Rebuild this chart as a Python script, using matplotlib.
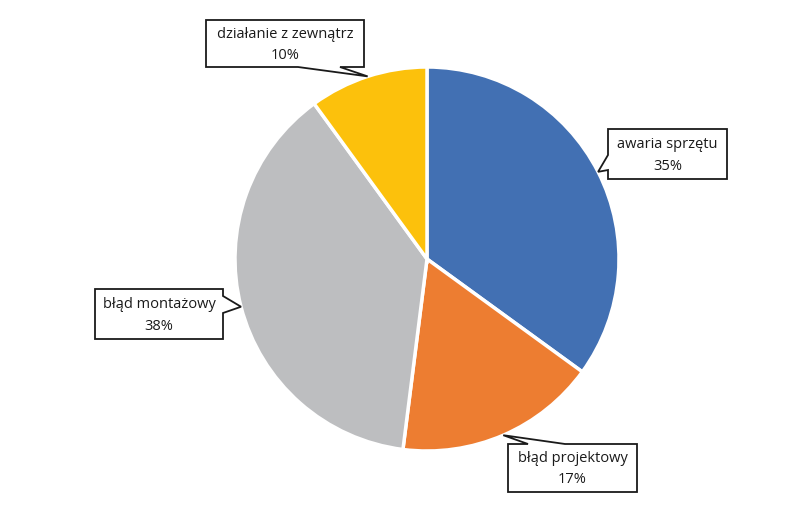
import numpy as np
import matplotlib
matplotlib.use("Agg")
import matplotlib.pyplot as plt
from matplotlib.patches import Polygon

plt.rcParams["font.family"] = ["Open Sans", "DejaVu Sans"]

# dane
kategorie = ["awaria sprzętu", "błąd projektowy", "błąd montażowy", "działanie z zewnątrz"]
udzialy = [35, 17, 38, 10]
kolory = ["#4270B3", "#ED7D31", "#BDBEC0", "#FCC10C"]

W, H = 800, 510
CX, CY, R = 427, 250, 192  # srodek w ukladzie y w gore

# ramki etykiet (piksele, y w dol): x0, y0, x1, y1, krawedz, poczatek i koniec podstawy wskaznika
ramki = [
    (608, 130, 727, 180, "left", 156, 171),
    (508, 445, 637, 493, "top", 528, 565),
    (95, 290, 223, 340, "right", 297, 314),
    (206, 21, 364, 68, "bottom", 298, 340),
]

fig = plt.figure(figsize=(W / 100, H / 100), dpi=100)
ax = fig.add_axes([0, 0, 1, 1])
ax.pie(udzialy, colors=kolory, startangle=90, counterclock=False,
       center=(CX, CY), radius=R,
       wedgeprops=dict(edgecolor="white", linewidth=2.5))
ax.set_xlim(0, W)
ax.set_ylim(0, H)
ax.set_aspect("equal")
ax.axis("off")

# katy srodkow wycinkow
frac = np.array(udzialy) / sum(udzialy)
kon = 90 - 360 * np.cumsum(frac)
srodki = kon + 180 * frac

for nazwa, p, kat, rb in zip(kategorie, udzialy, srodki, ramki):
    x0, y0, x1, y1, bok, a, b = rb
    tx = CX + R * np.cos(np.radians(kat))
    ty = CY + R * np.sin(np.radians(kat))
    Y0, Y1 = H - y0, H - y1  # Y0 gora, Y1 dol
    if bok == "left":
        pts = [(x0, Y0), (x1, Y0), (x1, Y1), (x0, Y1), (x0, H - b), (tx, ty), (x0, H - a)]
    elif bok == "right":
        pts = [(x0, Y0), (x1, Y0), (x1, H - a), (tx, ty), (x1, H - b), (x1, Y1), (x0, Y1)]
    elif bok == "top":
        pts = [(x0, Y0), (a, Y0), (tx, ty), (b, Y0), (x1, Y0), (x1, Y1), (x0, Y1)]
    else:
        pts = [(x0, Y0), (x1, Y0), (x1, Y1), (b, Y1), (tx, ty), (a, Y1), (x0, Y1)]
    ax.add_patch(Polygon(pts, closed=True, facecolor="white", edgecolor="#1a1a1a",
                         linewidth=1.3, zorder=5, joinstyle="miter"))
    xm = (x0 + x1) / 2
    ax.text(xm, (Y0 + Y1) / 2 + 10, nazwa, ha="center", va="center",
            fontsize=10.5, color="#1a1a1a", zorder=6)
    ax.text(xm, (Y0 + Y1) / 2 - 11, f"{p}%", ha="center", va="center",
            fontsize=10.5, color="#1a1a1a", zorder=6)

fig.savefig("out.png", dpi=100)
